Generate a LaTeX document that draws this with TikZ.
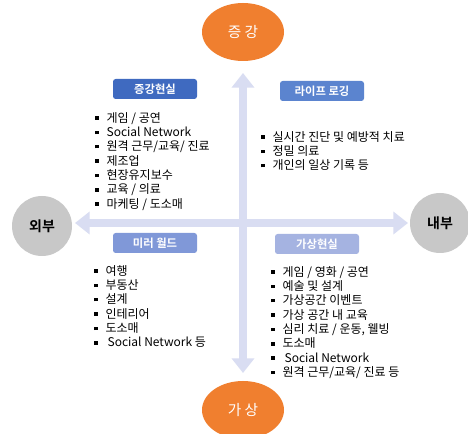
\documentclass[tikz,border=0pt]{standalone}
\usepackage{fontspec}
\setmainfont{Noto Sans CJK KR}[BoldFont={Noto Sans CJK KR Bold}]
\usetikzlibrary{positioning,shapes.geometric,arrows.meta}

\definecolor{axisblue}{HTML}{D9DDF2}
\definecolor{poleorange}{HTML}{F07F2F}
\definecolor{sidegray}{HTML}{C8C8C8}
\definecolor{tagA}{HTML}{3F6AC0}
\definecolor{tagB}{HTML}{5B84CF}
\definecolor{tagC}{HTML}{8098D8}
\definecolor{tagD}{HTML}{A5B3E1}

% square bullet in front of each list line
\newcommand{\itm}{\makebox[8.5pt][l]{\rule[1.8pt]{2.7pt}{2.7pt}}}

\begin{document}
\begin{tikzpicture}[x=0.75pt,y=-0.75pt,
  pole/.style={ellipse,fill=poleorange,text=white,minimum width=61.5pt,minimum height=43.5pt,font=\fontsize{11}{12}\selectfont},
  side/.style={circle,fill=sidegray,minimum size=45pt,font=\bfseries\fontsize{10.5}{12}\selectfont},
  tag/.style={rounded corners=2pt,text=white,minimum width=63pt,minimum height=15pt,inner sep=0pt,font=\bfseries\fontsize{8.5}{10}\selectfont},
  items/.style={align=left,anchor=north west,inner sep=0pt,font=\fontsize{9}{10.76}\selectfont},
  axis/.style={draw=axisblue,fill=axisblue,line width=6.5pt,{Triangle[width=16.5pt,length=11pt]}-{Triangle[width=16.5pt,length=11pt]}}]

\fill[white] (0,0) rectangle (468,434);
\clip (0,0) rectangle (468,434);

% ends of the two axes
\coordinate (top) at (243,73);
\coordinate (bot) at (243,373);
\coordinate (lft) at (75,223);
\coordinate (rgt) at (408,223);

\draw[axis] (lft) -- (rgt);
\draw[axis] (bot) -- (top);

\node (aug) [pole] at (243,32) {증 강};
\node (virt) [pole] at (243,410) {가 상};
\node (ext) [side] at (42,226) {외부};
\node (int) [side] at (440,223) {내부};

% quadrant titles
\node (tagAR) [tag,fill=tagA] at (155,89) {증강현실};
\node (tagLL) [tag,fill=tagB] at (322,91) {라이프 로깅};
\node (tagMW) [tag,fill=tagC] at (155,243) {미러 월드};
\node (tagVR) [tag,fill=tagD] at (317,244) {가상현실};

% quadrant lists
\node (lsAR) [items] at (95,112) {\itm 게임 / 공연\\ \itm Social Network\\ \itm 원격 근무/교육/ 진료\\ \itm 제조업\\ \itm 현장유지보수\\ \itm 교육 / 의료\\ \itm 마케팅 / 도소매};
\node (lsLL) [items] at (261,131) {\itm 실시간 진단 및 예방적 치료\\ \itm 정밀 의료\\ \itm 개인의 일상 기록 등};
\node (lsMW) [items] at (94,265) {\itm 여행\\ \itm 부동산\\ \itm 설계\\ \itm 인테리어\\ \itm 도소매\\ \itm\,Social Network 등};
\node (lsVR) [items] at (271,266) {\itm 게임 / 영화 / 공연\\ \itm 예술 및 설계\\ \itm 가상공간 이벤트\\ \itm 가상 공간 내 교육\\ \itm 심리 치료 / 운동, 웰빙\\ \itm 도소매\\ \itm\,Social Network\\ \itm 원격 근무/교육/ 진료 등};

\end{tikzpicture}
\end{document}
